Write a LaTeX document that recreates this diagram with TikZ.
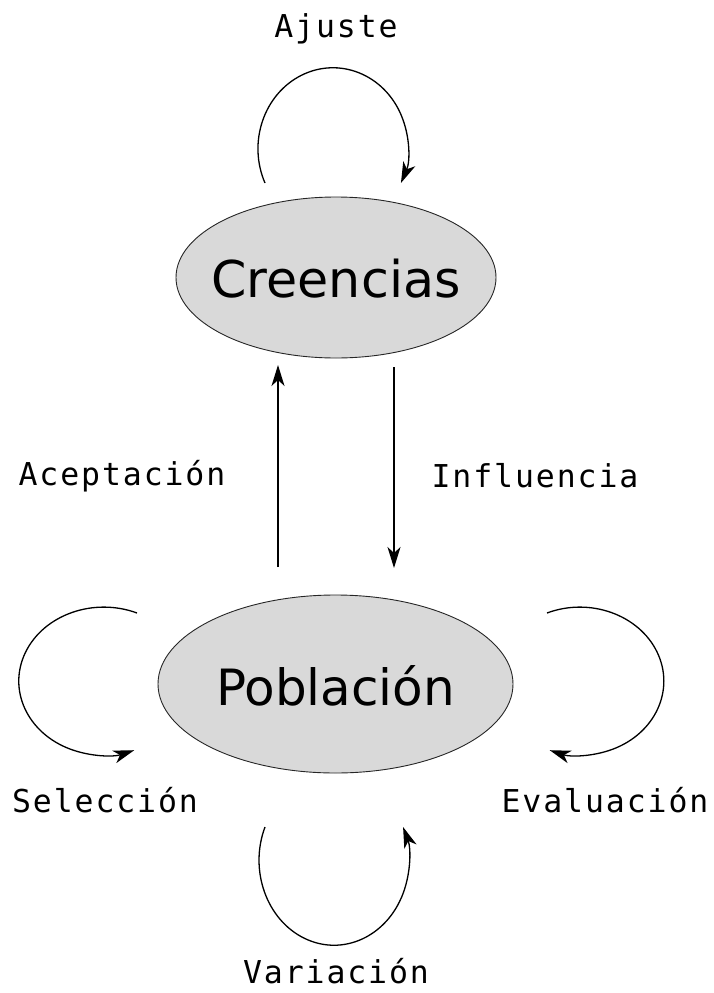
\documentclass[tikz,border=0pt]{standalone}
\usepackage{fontspec}
\setmainfont{DejaVu Sans}
\newfontfamily\monof{DejaVu Sans Mono}[LetterSpace=6]
\usetikzlibrary{arrows.meta,shapes.geometric}
\definecolor{fillg}{gray}{0.85}
\begin{document}
\begin{tikzpicture}[x=1pt,y=-1pt,
  state/.style={ellipse, draw=black!85, line width=0.9pt, fill=fillg, inner sep=0pt,
    font=\fontsize{50.7}{58}\selectfont},
  lbl/.style={anchor=base, inner sep=0pt, font=\monof\fontsize{31.5}{36}\selectfont},
  arr/.style={line width=1.3pt, -{Stealth[length=21pt, width=13pt, inset=6pt]}}]
\useasboundingbox (0,0) rectangle (713,993);
% nodes
\node[state, minimum width=320pt, minimum height=161pt] (creencias) at (336,277.5) {};
\node[anchor=base, inner sep=0pt, font=\fontsize{50.7}{58}\selectfont] (tc) at (336,297) {Creencias};
\node[state, minimum width=355pt, minimum height=178pt] (poblacion) at (335.5,684) {};
\node[anchor=base, inner sep=0pt, font=\fontsize{50}{58}\selectfont] (tp) at (335.5,705) {Población};
% labels
\node[lbl] (ajuste) at (336,37) {Ajuste};
\node[lbl] (acept) at (122,485) {Aceptación};
\node[lbl] (influ) at (535,487) {Influencia};
\node[lbl] (selec) at (105,812) {Selección};
\node[lbl] (evalu) at (605,812) {Evaluación};
\node[lbl] (varia) at (336,983) {Variación};
% connector endpoints
\coordinate (aS) at (278,567);
\coordinate (aE) at (278,365);
\coordinate (iS) at (394,367);
\coordinate (iE) at (394,568);
\coordinate (ajS) at (265,183);
\coordinate (seS) at (137,613);
\coordinate (evS) at (547,613);
\coordinate (vaS) at (265,827);
% straight arrows
\draw[arr] (aS) -- (aE);
\draw[arr] (iS) -- (iE);
% loops
\draw[arr] (ajS) arc[start angle=205, end angle=-25, x radius=75pt, y radius=81pt];
\draw[arr] (seS) arc[start angle=67, end angle=291, x radius=85pt, y radius=74pt];
\draw[arr] (evS) arc[start angle=113, end angle=-111, x radius=84pt, y radius=74pt];
\draw[arr] (vaS) arc[start angle=157, end angle=383, x radius=75pt, y radius=85pt];
\end{tikzpicture}
\end{document}
